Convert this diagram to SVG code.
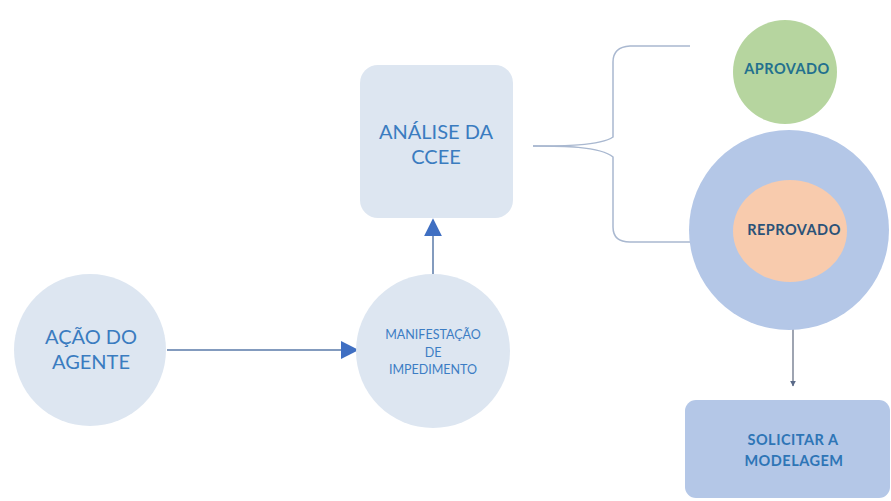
<svg xmlns="http://www.w3.org/2000/svg" width="891" height="501" viewBox="0 0 891 501">
<defs>
<style>
.lt{fill:#dde6f1}
.bl{fill:#b4c7e7}
.t{font-family:Lato,"Open Sans","Liberation Sans",sans-serif;text-anchor:middle}
.big{font-size:20px;fill:#3a7cc0}
.sm{font-size:12.5px;fill:#3c7dc4}
.bd{font-size:14.5px;font-weight:bold;letter-spacing:0.5px}
.ln{fill:none;stroke:#5a7aa8;stroke-width:1.5}
.br{fill:none;stroke:#a9b8d0;stroke-width:1.5}
</style>
<marker id="ahb" viewBox="0 0 10 10" refX="9" refY="5" markerWidth="18" markerHeight="18" orient="auto" markerUnits="userSpaceOnUse">
<path d="M0,0 L10,5 L0,10 Z" fill="#3f6fc2"/>
</marker>
<marker id="ahs" viewBox="0 0 10 10" refX="9" refY="5" markerWidth="6" markerHeight="6" orient="auto" markerUnits="userSpaceOnUse">
<path d="M0,0 L10,5 L0,10 Z" fill="#5a6a88"/>
</marker>
</defs>
<rect width="891" height="501" fill="#ffffff"/>
<g id="connectors">
<line class="ln" x1="167" y1="350" x2="357" y2="350" marker-end="url(#ahb)"/>
<line class="ln" x1="433" y1="275" x2="433" y2="220" marker-end="url(#ahb)"/>
<path class="br" d="M533,146 C560,146 600,146 613,137 L613,62 Q613,47 630,46 L690,46"/>
<path class="br" d="M533,146 C560,146 600,146 613,157 L613,227 Q613,242 630,242 L690,242"/>
<line x1="793" y1="328" x2="793" y2="386" stroke="#6a7488" stroke-width="1.3" marker-end="url(#ahs)"/>
</g>
<g id="acao">
<circle class="lt" cx="90" cy="350" r="76"/>
<text class="t big" x="91" y="344">AÇÃO DO</text>
<text class="t big" x="91" y="369">AGENTE</text>
</g>
<g id="manifestacao">
<circle class="lt" cx="433" cy="351" r="77"/>
<text class="t sm" x="433" y="339">MANIFESTAÇÃO</text>
<text class="t sm" x="433" y="357">DE</text>
<text class="t sm" x="433" y="374">IMPEDIMENTO</text>
</g>
<g id="analise">
<rect class="lt" x="360" y="65" width="153" height="153" rx="18"/>
<text class="t big" x="436" y="139">ANÁLISE DA</text>
<text class="t big" x="436" y="164">CCEE</text>
</g>
<g id="aprovado">
<circle cx="785" cy="72" r="52" fill="#b6d59f"/>
<text class="t bd" x="787" y="74" fill="#23708e">APROVADO</text>
</g>
<g id="reprovado">
<circle class="bl" cx="789" cy="230" r="100"/>
<ellipse cx="790" cy="231" rx="57" ry="51" fill="#f8cbad"/>
<text class="t bd" x="794" y="235" fill="#2b5278">REPROVADO</text>
</g>
<g id="solicitar">
<rect class="bl" x="685" y="400" width="205" height="98" rx="11"/>
<text class="t bd" x="793" y="445" fill="#2e75b6">SOLICITAR A</text>
<text class="t bd" x="794" y="466" fill="#2e75b6">MODELAGEM</text>
</g>
</svg>
